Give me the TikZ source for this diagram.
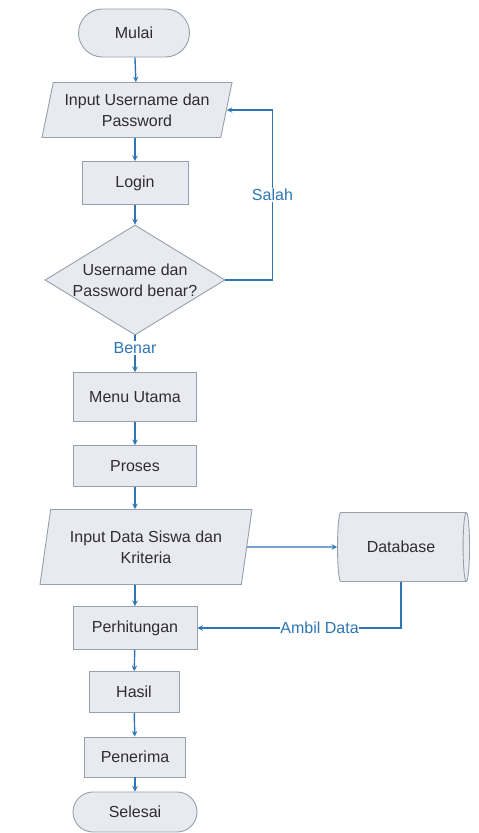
\documentclass[tikz,border=0pt]{standalone}
\usepackage{fontspec}
\setmainfont{Liberation Sans}
\usetikzlibrary{shapes.geometric, arrows}

\definecolor{boxfill}{RGB}{233,234,239}
\definecolor{boxline}{RGB}{150,160,172}
\definecolor{flow}{RGB}{46,117,182}
\definecolor{txt}{RGB}{45,45,50}

\tikzset{
  base/.style={draw=boxline, fill=boxfill, line width=0.9pt, text=txt, align=center},
  term/.style={base, rounded corners=24pt, minimum width=111pt, minimum height=48pt},
  proc/.style={base, rectangle},
  io/.style={base, trapezium, trapezium stretches body=true, inner sep=0pt},
  decision/.style={base, diamond, inner sep=-14pt, minimum width=180pt, minimum height=110pt},
  db/.style={base, cylinder, aspect=0.35, minimum width=69pt, minimum height=132pt},
  lbl/.style={fill=white, text=flow, inner sep=1.5pt}
}

\begin{document}
\begin{tikzpicture}[x=1pt, y=-1pt, >=stealth, font=\fontsize{16}{21}\selectfont]
      \useasboundingbox (0,0) rectangle (479,833);
      \node[term] (mulai) at (134,33) {Mulai};
      \node[io, trapezium left angle=71, trapezium right angle=109,
            minimum width=190pt, minimum height=55pt] (input1) at (137,110) {Input Username dan\\Password};
      \node[proc, minimum width=106pt, minimum height=43pt] (login) at (135,183) {Login};
      \node[decision] (cek) at (135,280) {Username dan\\Password benar?};
      \node[proc, minimum width=123pt, minimum height=49pt] (menu) at (135,397) {Menu Utama};
      \node[proc, minimum width=123pt, minimum height=41pt] (proses) at (135,466) {Proses};
      \node[io, trapezium left angle=72, trapezium right angle=108,
            minimum width=212pt, minimum height=75pt] (input2) at (146,547) {Input Data Siswa dan\\Kriteria};
      \node[db, shape border rotate=0] (data) at (401,547) {Database};
      \node[proc, minimum width=124pt, minimum height=43pt] (hitung) at (135,628) {Perhitungan};
      \node[proc, minimum width=90pt, minimum height=41pt] (hasil) at (134,692) {Hasil};
      \node[proc, minimum width=101pt, minimum height=40pt] (terima) at (135,757) {Penerima};
      \node[term, rounded corners=20pt, minimum width=124pt, minimum height=40pt] (selesai) at (135,812) {Selesai};
      \draw[->, draw=flow, line width=1.4pt] (mulai) -- (input1);
      \draw[->, draw=flow, line width=1.4pt] (input1.south -| login) -- (login);
      \draw[->, draw=flow, line width=1.4pt] (login) -- (cek);
      \draw[->, draw=flow, line width=1.4pt] (cek.east) -- ++(47,0) |- (input1.east)
            node[lbl, pos=0.25] {Salah};
      \draw[->, draw=flow, line width=1.4pt] (cek) -- (menu)
            node[lbl, pos=0.35] {Benar};
      \draw[->, draw=flow, line width=1.4pt] (menu) -- (proses);
      \draw[->, draw=flow, line width=1.4pt] (proses) -- (proses |- input2.north);
      \draw[->, draw=flow, line width=1.4pt] (input2.east) -- (data.west);
      \draw[->, draw=flow, line width=1.4pt] (hitung |- input2.south) -- (hitung);
      \draw[->, draw=flow, line width=1.4pt] (data.south) |- (hitung.east)
            node[lbl, pos=0.7, inner sep=0.5pt] {Ambil Data};
      \draw[->, draw=flow, line width=1.4pt] (hitung) -- (hasil);
      \draw[->, draw=flow, line width=1.4pt] (hasil) -- (terima);
      \draw[->, draw=flow, line width=1.4pt] (terima) -- (selesai);
    \end{tikzpicture}
\end{document}
